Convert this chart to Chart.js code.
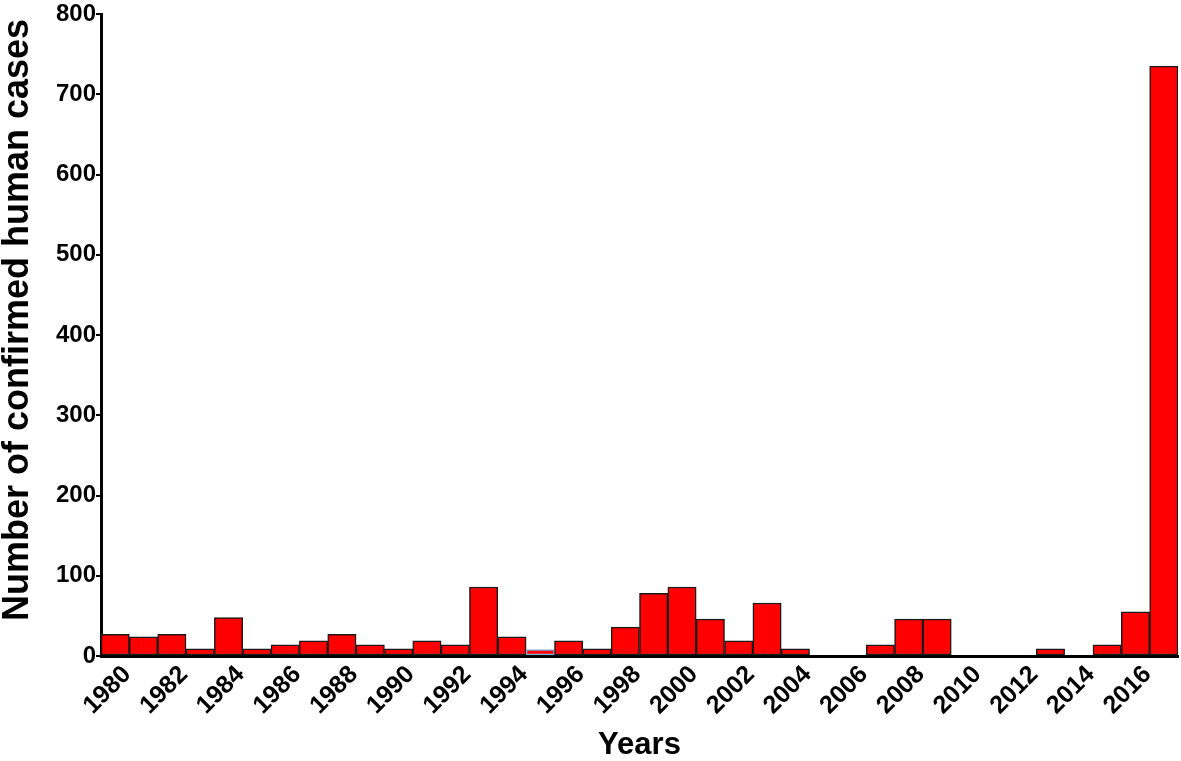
<!DOCTYPE html>
<html>
<head>
<meta charset="utf-8">
<script src="https://cdn.jsdelivr.net/npm/chart.js@4/dist/chart.umd.min.js"></script>
<style>
  html, body { margin: 0; padding: 0; background: #fff; }
  #wrap { width: 1181px; height: 761px; }
</style>
</head>
<body>
<div id="wrap"><canvas id="chart-cases"></canvas></div>
<script>
const YEARS = ['1980','1981','1982','1983','1984','1985','1986','1987','1988','1989',
               '1990','1991','1992','1993','1994','1995','1996','1997','1998','1999',
               '2000','2001','2002','2003','2004','2005','2006','2007','2008','2009',
               '2010','2011','2012','2013','2014','2015','2016','2017'];
const CASES = [27, 24, 27, 9, 48, 9, 14, 19, 27, 14,
               9, 19, 14, 86, 24, 8, 19, 9, 36, 78,
               86, 46, 19, 66, 9, 0, 0, 14, 46, 46,
               0, 0, 0, 9, 0, 14, 55, 735];
const Y_TICKS = [0, 100, 200, 300, 400, 500, 600, 700, 800];

const FONT = 'Arial, "Liberation Sans", sans-serif';

const canvas = document.getElementById('chart-cases');
new Chart(canvas.getContext('2d'), {
  type: 'bar',
  data: {
    labels: YEARS,
    datasets: [{
      label: 'Confirmed human cases',
      data: CASES,
      backgroundColor: '#ff0000',
      borderColor: ctx => YEARS[ctx.dataIndex] === '1995' ? '#7fb0d8' : '#1a1a1a',
      borderWidth: 1.5,
      borderSkipped: false,
      categoryPercentage: 1,
      barPercentage: 1,
    }],
  },
  options: {
    responsive: true,
    maintainAspectRatio: false,
    animation: false,
    layout: { padding: { top: 14, right: 3, left: 0, bottom: 0 } },
    plugins: {
      legend: { display: false },
      tooltip: { enabled: false },
    },
    scales: {
      x: {
        grid: { display: false, drawTicks: false },
        border: { display: true, color: '#000', width: 3 },
        ticks: {
          autoSkip: false,
          maxRotation: 45,
          minRotation: 45,
          padding: 4,
          labelOffset: 12,
          color: '#000',
          font: { family: FONT, size: 25, weight: 'bold' },
          callback: (v, i) => (i % 2 === 0 ? YEARS[i] : ''),
        },
        title: {
          display: true,
          text: 'Years',
          color: '#000',
          font: { family: FONT, size: 31, weight: 'bold', lineHeight: 1 },
          padding: { top: 0, bottom: 0 },
        },
        afterFit: scale => {
          scale.height = 105;
          scale.paddingLeft = 0;
          scale.paddingRight = 0;
        },
      },
      y: {
        min: 0,
        max: 800,
        afterBuildTicks: scale => { scale.ticks = Y_TICKS.map(v => ({ value: v })); },
        grid: { display: true, drawOnChartArea: false, drawTicks: true, tickLength: 5, color: '#000', lineWidth: 2 },
        border: { display: true, color: '#000', width: 3 },
        ticks: {
          padding: 0,
          color: '#000',
          font: { family: FONT, size: 24, weight: 'bold' },
        },
        title: {
          display: true,
          // leading spaces nudge the centred title up a little, like the original
          text: '   Number of confirmed human cases',
          color: '#000',
          font: { family: FONT, size: 36, weight: 'bold', lineHeight: 1 },
          padding: { top: 0, bottom: 0 },
        },
        afterFit: scale => {
          scale.width = 101;
          scale.paddingTop = 0;
          scale.paddingBottom = 0;
        },
      },
    },
  },
});
</script>
</body>
</html>
